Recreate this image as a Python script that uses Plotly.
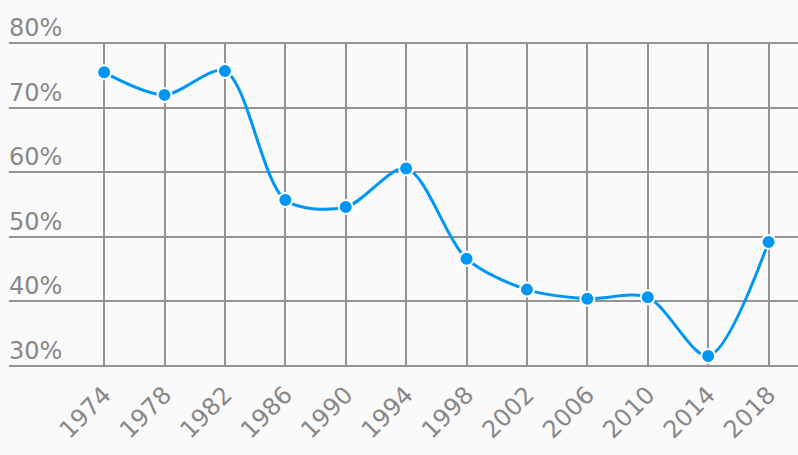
import plotly.graph_objects as go

years = [1974, 1978, 1982, 1986, 1990, 1994, 1998, 2002, 2006, 2010, 2014, 2018]
values = [75.5, 72.0, 75.7, 55.7, 54.6, 60.6, 46.6, 41.8, 40.4, 40.6, 31.5, 49.2]
y_ticks = [30, 40, 50, 60, 70, 80]
y_labels = ["30%", "40%", "50%", "60%", "70%", "80%"]

font_family = "DejaVu Sans"
grid_color = "#939393"

fig = go.Figure()
fig.add_trace(go.Scatter(
    x=years, y=values, mode="lines+markers",
    line=dict(color="#0096F7", width=3, shape="spline", smoothing=0.85),
    marker=dict(size=14, color="#0096F7", line=dict(color="white", width=2)),
    hoverinfo="skip",
))

for v, lab in zip(y_ticks, y_labels):
    fig.add_annotation(
        x=0, xref="paper", y=v, yref="y",
        text=lab, showarrow=False,
        xanchor="left", yanchor="bottom", yshift=-1, xshift=-2,
        font=dict(size=24, color="#888888", family=font_family),
    )

fig.update_layout(
    width=798, height=455,
    margin=dict(l=9, r=0, t=42, b=88),
    paper_bgcolor="#fafafa", plot_bgcolor="#fafafa",
    showlegend=False,
    font=dict(family=font_family, color="#888888", size=21),
)
fig.update_xaxes(
    range=[1967.7, 2019.95],
    tickvals=years, ticktext=[str(y) for y in years],
    tickangle=-45,
    showgrid=True, gridcolor=grid_color, gridwidth=2,
    zeroline=False, showline=False, ticks="",
    ticklabelstandoff=8,
    tickfont=dict(size=24, color="#888888", family=font_family),
)
fig.update_yaxes(
    range=[29.8, 80.2],
    tickvals=y_ticks, showticklabels=False,
    showgrid=True, gridcolor=grid_color, gridwidth=2,
    zeroline=False, showline=False, ticks="",
)
fig.write_html(
    "out.html",
    config={"displayModeBar": False, "staticPlot": True},
    post_script="document.body.style.margin='0';document.body.style.background='#fafafa';",
)
